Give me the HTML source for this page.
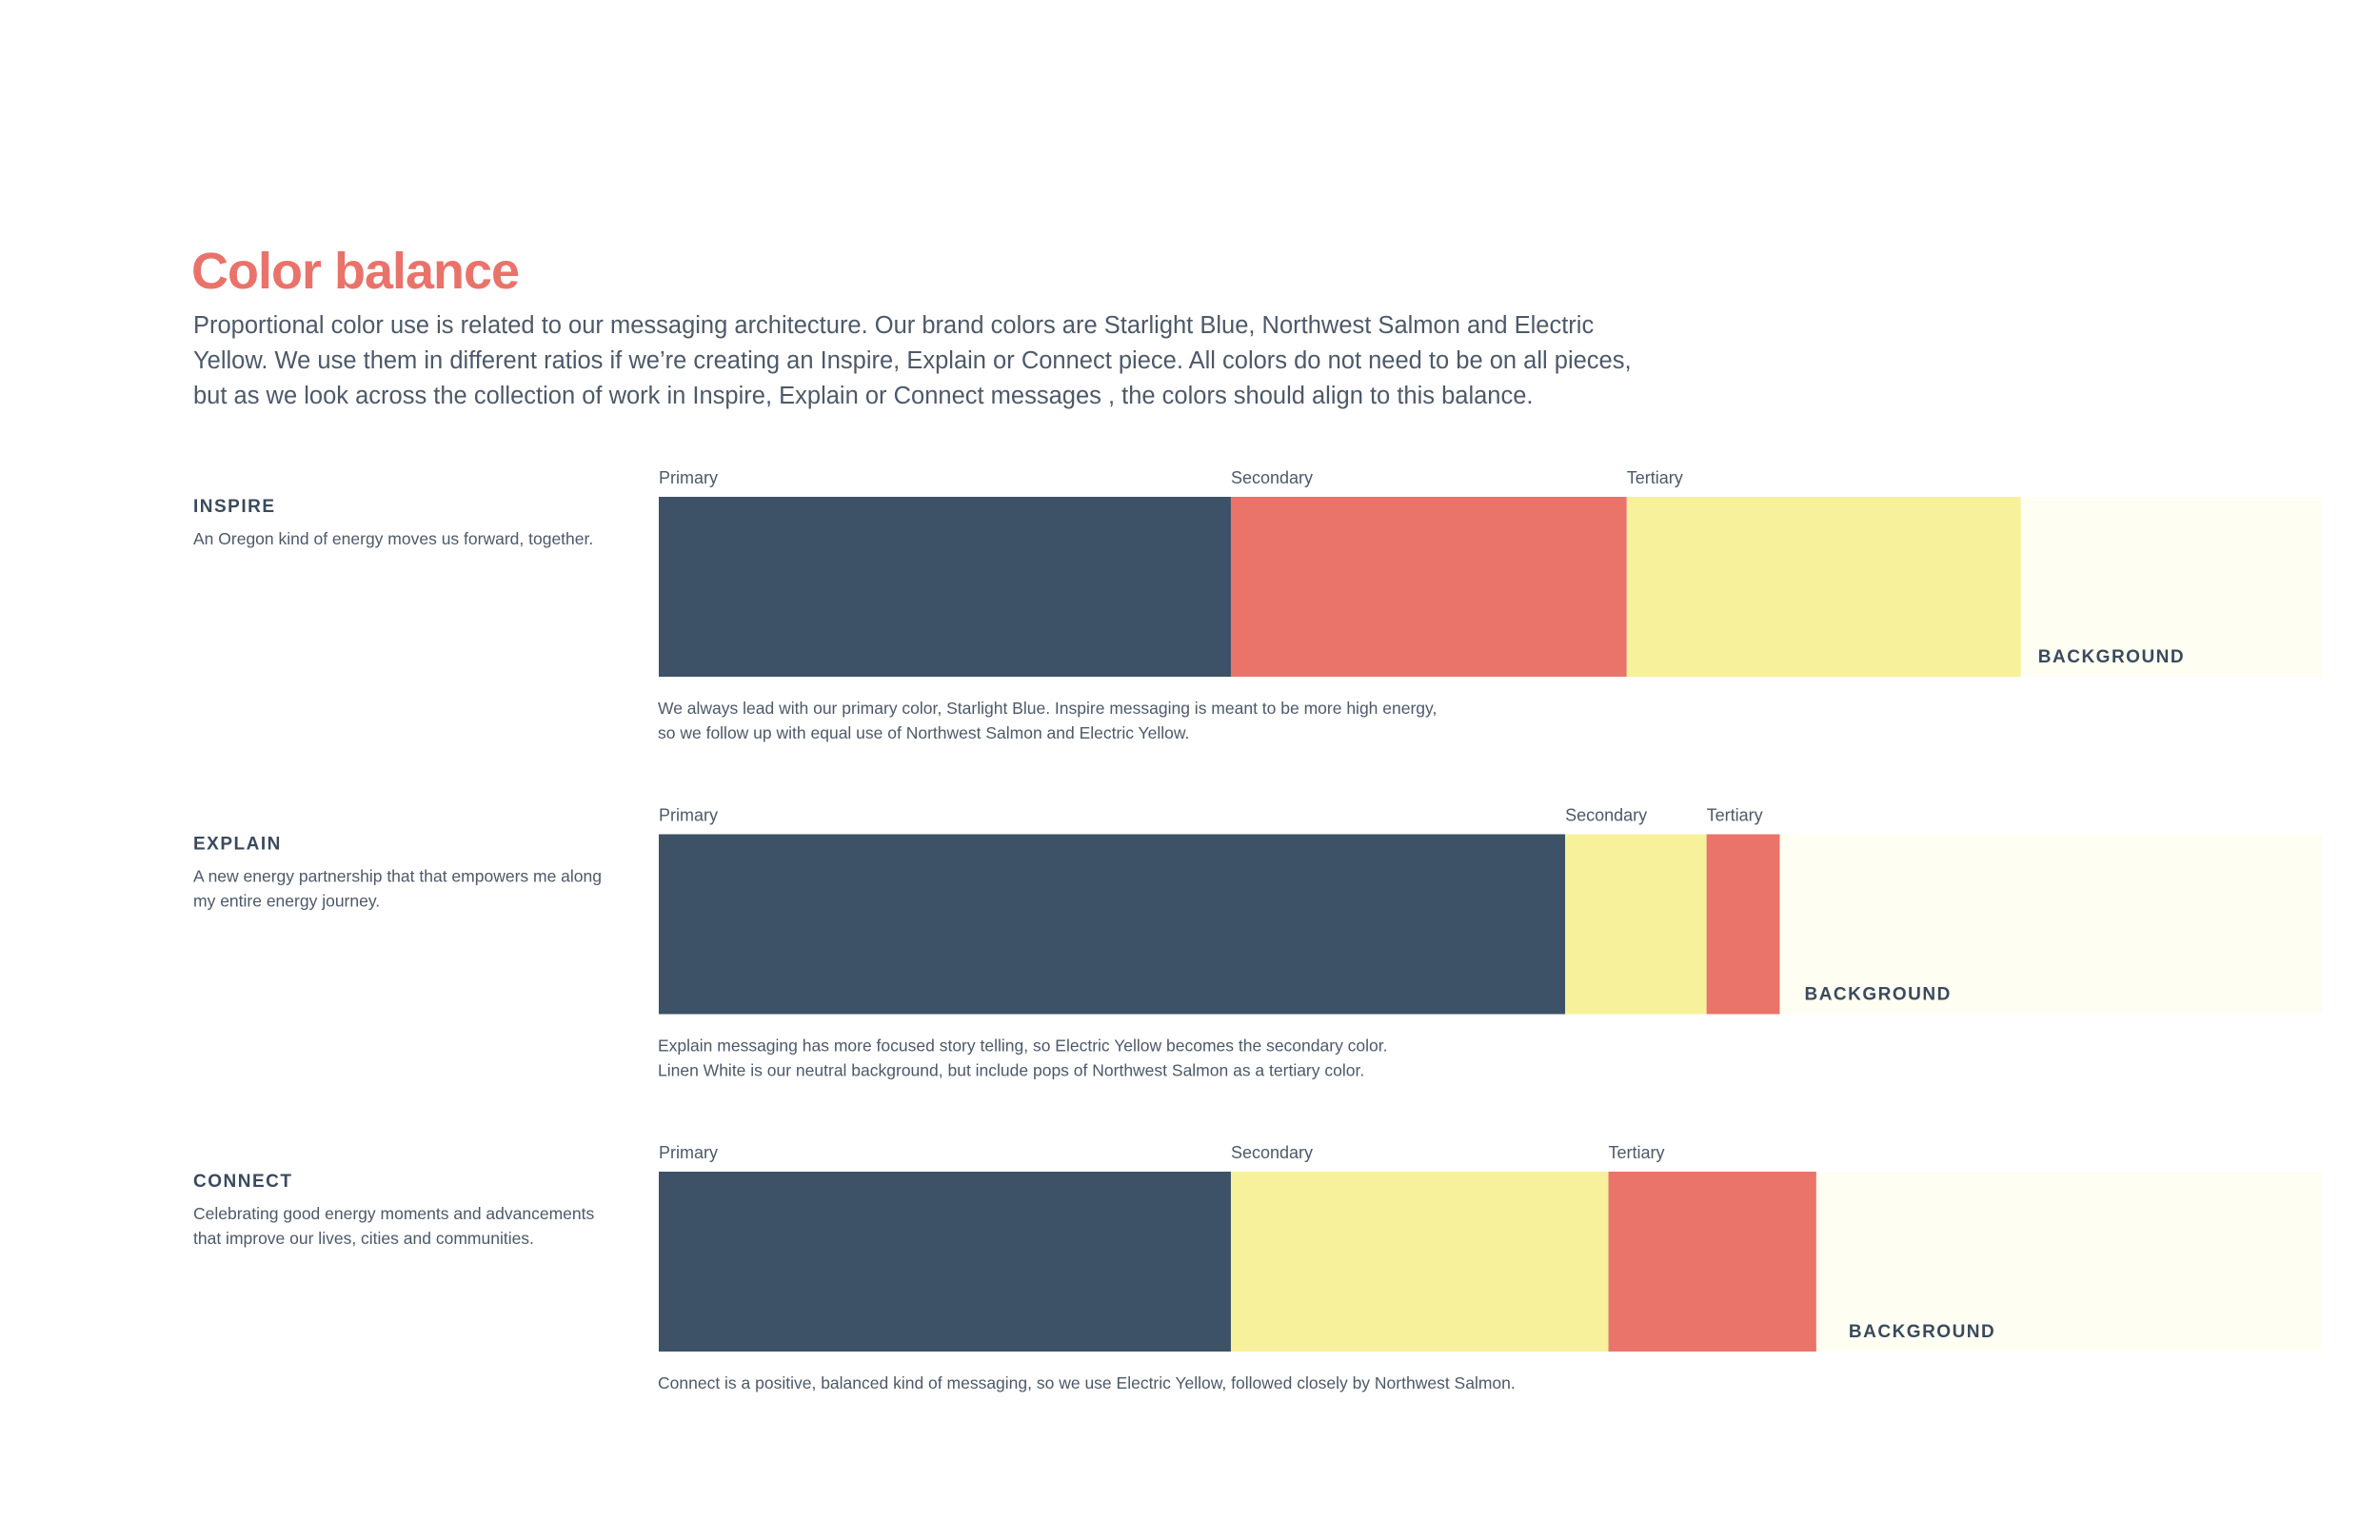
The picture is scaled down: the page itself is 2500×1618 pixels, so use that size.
<!DOCTYPE html>
<html><head><meta charset="utf-8">
<style>
body{margin:0;background:#fff;}
svg{display:block;font-family:"Liberation Sans",sans-serif;}
</style></head>
<body>
<svg id="chart" width="2500" height="1618" viewBox="0 0 2500 1618" xmlns="http://www.w3.org/2000/svg">
<text x="201" y="303" font-size="54" font-weight="bold" fill="#e9736a" letter-spacing="-1">Color balance</text>
<g font-size="25.5" fill="#4d5968">
<text x="203" y="350">Proportional color use is related to our messaging architecture. Our brand colors are Starlight Blue, Northwest Salmon and Electric</text>
<text x="203" y="387">Yellow. We use them in different ratios if we’re creating an Inspire, Explain or Connect piece. All colors do not need to be on all pieces,</text>
<text x="203" y="424">but as we look across the collection of work in Inspire, Explain or Connect messages , the colors should align to this balance.</text>
</g>
<g id="rows"></g>
</svg>
<script>
const categories = ["INSPIRE","EXPLAIN","CONNECT"];
const descriptions = [["An Oregon kind of energy moves us forward, together."],["A new energy partnership that that empowers me along","my entire energy journey."],["Celebrating good energy moments and advancements","that improve our lives, cities and communities."]];
const captions = [["We always lead with our primary color, Starlight Blue. Inspire messaging is meant to be more high energy,","so we follow up with equal use of Northwest Salmon and Electric Yellow."],["Explain messaging has more focused story telling, so Electric Yellow becomes the secondary color.","Linen White is our neutral background, but include pops of Northwest Salmon as a tertiary color."],["Connect is a positive, balanced kind of messaging, so we use Electric Yellow, followed closely by Northwest Salmon."]];
const segmentLabels = ["Primary","Secondary","Tertiary","BACKGROUND"];
const primaryValues = [34.4, 54.5, 34.4];
const secondaryValues = [23.8, 8.5, 22.7];
const tertiaryValues = [23.7, 4.4, 12.5];
const backgroundValues = [18.1, 32.6, 30.4];
const rowColors = [["#3d5266","#ea746a","#f7f19b","#fffef3"],["#3d5266","#f7f19b","#ea746a","#fffef3"],["#3d5266","#f7f19b","#ea746a","#fffef3"]];

const NS="http://www.w3.org/2000/svg";
const X0=692, X1=2439, BAR_H=189, ROW0=522, ROW_STEP=354.5;
const total=i=>primaryValues[i]+secondaryValues[i]+tertiaryValues[i]+backgroundValues[i];
const xScale=(v,i)=>X0+(v/total(i))*(X1-X0);
const rows=document.getElementById('rows');
function mk(tag,attrs,txt){const e=document.createElementNS(NS,tag);for(const k in attrs)e.setAttribute(k,attrs[k]);if(txt!==undefined)e.textContent=txt;return e;}
const segNames=["primary","secondary","tertiary","background"];
categories.forEach((cat,i)=>{
  const y=ROW0+i*ROW_STEP;
  const g=mk('g',{});
  
  
  rows.appendChild(g);
  const t=mk('text',{x:203,y:y+16,'font-size':19,'font-weight':'bold',fill:'#3a4a5c','letter-spacing':'1.5'},cat);
  
  
  g.appendChild(t);
  descriptions[i].forEach((line,j)=>{
    const d=mk('text',{x:203,y:y+50+j*26,'font-size':17.5,fill:'#4d5968'},line);
    
    
    g.appendChild(d);
  });
  const vals=[primaryValues[i],secondaryValues[i],tertiaryValues[i],backgroundValues[i]];
  let cum=0;
  vals.forEach((v,k)=>{
    const xa=xScale(cum,i), xb=xScale(cum+v,i);
    const r=mk('rect',{x:xa,y:y,width:xb-xa,height:BAR_H,fill:rowColors[i][k]});
    
    
    g.appendChild(r);
    if(k<3){
      const l=mk('text',{x:xa,y:y-14,'font-size':18,fill:'#4d5968'},segmentLabels[k]);
      
      
      g.appendChild(l);
    } else {
      const l=mk('text',{x:xa+18+i*8,y:y+BAR_H-15,'font-size':19,'font-weight':'bold',fill:'#3a4a5c','letter-spacing':'1.5'},segmentLabels[k]);
      
      
      g.appendChild(l);
    }
    cum+=v;
  });
  captions[i].forEach((line,j)=>{
    const c=mk('text',{x:691,y:y+228+j*26,'font-size':17.5,fill:'#4d5968'},line);
    
    
    g.appendChild(c);
  });
});
</script>
</body></html>
